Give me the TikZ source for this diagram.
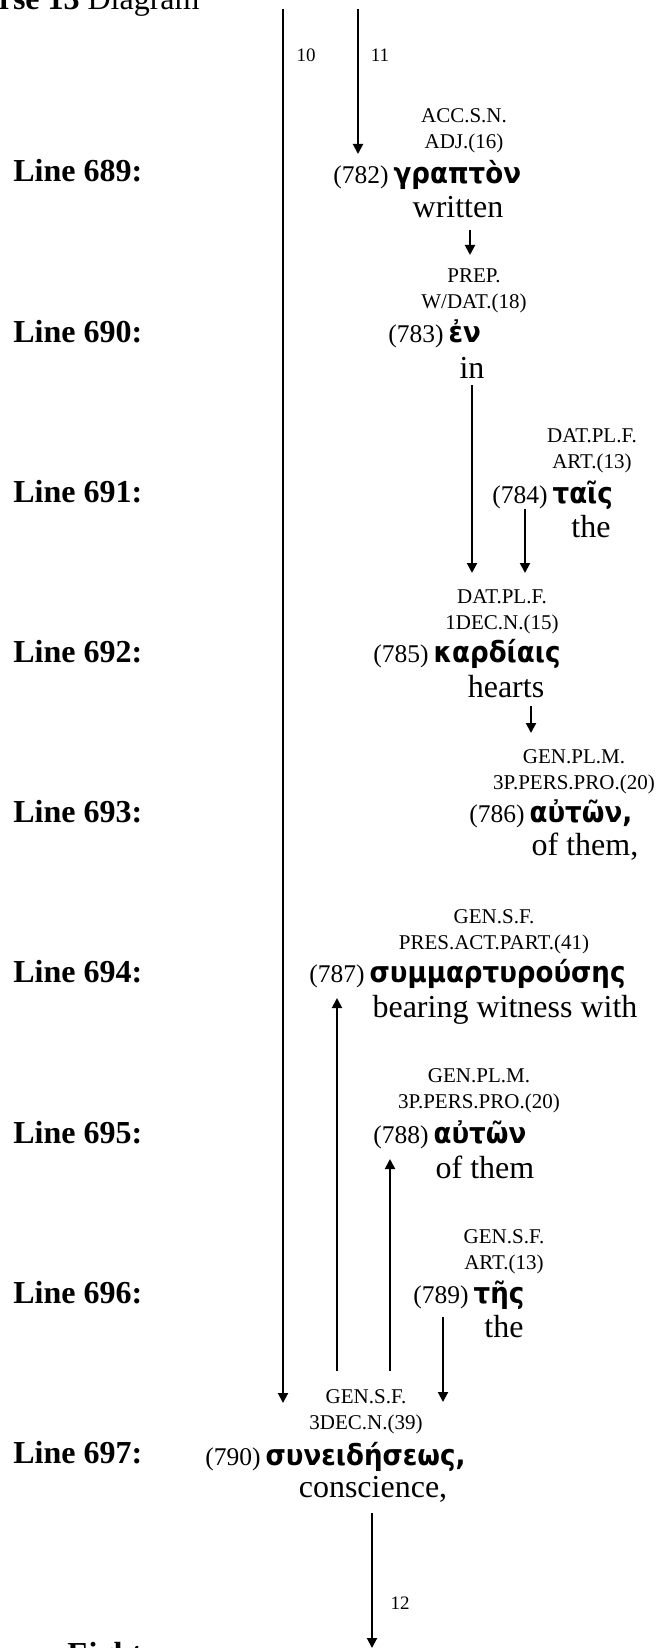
\documentclass[tikz,border=0pt]{standalone}
\usepackage{fontspec}
\setmainfont{Liberation Serif}
\newfontfamily\gkfont{DejaVu Sans}[FakeStretch=0.9]
\usetikzlibrary{arrows.meta}

\tikzset{
	linelbl/.style={anchor=base west, inner sep=0pt, font=\fontsize{16pt}{19pt}\selectfont\bfseries},
	word/.style={anchor=base west, inner sep=0pt},
	morph/.style={anchor=north, inner sep=0pt, align=center, font=\fontsize{10.5pt}{13pt}\selectfont},
	gloss/.style={anchor=base, inner sep=0pt, font=\fontsize{16pt}{19pt}\selectfont},
	lnum/.style={inner sep=0pt, font=\fontsize{9.5pt}{11pt}\selectfont},
	arr/.style={line width=1pt, -{Triangle[length=5pt,width=5pt]}},
	link/.style={line width=1pt}
}
\newcommand{\gword}[2]{{\fontsize{12.75pt}{15pt}\selectfont(#1)} {\gkfont\bfseries\fontsize{14.5pt}{17pt}\selectfont #2}}

\begin{document}
\begin{tikzpicture}[x=0.5pt,y=-0.5pt]
	\useasboundingbox (0,0) rectangle (659,1648);
	% title and line labels
	\node[linelbl] (title) at (-36,10) {Verse 13 \mdseries Diagram};
	\node[linelbl] (L689) at (13,182) {Line 689:};
	\node[linelbl] (L690) at (13,342) {Line 690:};
	\node[linelbl] (L691) at (13,502) {Line 691:};
	\node[linelbl] (L692) at (13,662) {Line 692:};
	\node[linelbl] (L693) at (13,822) {Line 693:};
	\node[linelbl] (L694) at (13,982) {Line 694:};
	\node[linelbl] (L695) at (13,1143) {Line 695:};
	\node[linelbl] (L696) at (13,1303) {Line 696:};
	\node[linelbl] (L697) at (13,1463) {Line 697:};
	\node[linelbl] (next) at (67,1664) {Eight};

	% words (morph nodes hang from the cap line of their first row)
	\node[morph] (m782) at (464,108) {ACC.S.N.\\ADJ.(16)};
	\node[word] (w782) at (333,184) {\gword{782}{γραπτὸν}};
	\node[gloss] (g782) at (458,218) {written};

	\node[morph] (m783) at (474,268) {PREP.\\W/DAT.(18)};
	\node[word] (w783) at (388,342) {\gword{783}{ἐν}};
	\node[gloss] (g783) at (472,378) {in};

	\node[morph] (m784) at (592,428) {DAT.PL.F.\\ART.(13)};
	\node[word] (w784) at (492,503) {\gword{784}{ταῖς}};
	\node[gloss] (g784) at (591,537) {the};

	\node[morph] (m785) at (502,589) {DAT.PL.F.\\1DEC.N.(15)};
	\node[word] (w785) at (373,662) {\gword{785}{καρδίαις}};
	\node[gloss] (g785) at (506,697) {hearts};

	\node[morph] (m786) at (574,749) {GEN.PL.M.\\3P.PERS.PRO.(20)};
	\node[word] (w786) at (469,822) {\gword{786}{αὐτῶν,}};
	\node[gloss] (g786) at (585,855) {of them,};

	\node[morph] (m787) at (494,909) {GEN.S.F.\\PRES.ACT.PART.(41)};
	\node[word] (w787) at (309,982) {\gword{787}{συμμαρτυρούσης}};
	\node[gloss] (g787) at (505,1017) {bearing witness with};

	\node[morph] (m788) at (479,1068) {GEN.PL.M.\\3P.PERS.PRO.(20)};
	\node[word] (w788) at (373,1143) {\gword{788}{αὐτῶν}};
	\node[gloss] (g788) at (485,1178) {of them};

	\node[morph] (m789) at (504,1229) {GEN.S.F.\\ART.(13)};
	\node[word] (w789) at (413,1303) {\gword{789}{τῆς}};
	\node[gloss] (g789) at (504,1337) {the};

	\node[morph] (m790) at (366,1389) {GEN.S.F.\\3DEC.N.(39)};
	\node[word] (w790) at (205,1465) {\gword{790}{συνειδήσεως,}};
	\node[gloss] (g790) at (373,1497) {conscience,};

	% connector ends
	\coordinate (A10) at (283,9);
	\coordinate (B10) at (283,1403);
	\coordinate (A11) at (358,9);
	\coordinate (B11) at (358,154);
	\coordinate (A782) at (470,230);
	\coordinate (B782) at (470,255);
	\coordinate (A783) at (472,385);
	\coordinate (B783) at (472,573);
	\coordinate (A784) at (525,509);
	\coordinate (B784) at (525,573);
	\coordinate (A785) at (531,706);
	\coordinate (B785) at (531,733);
	\coordinate (A787) at (337,1371);
	\coordinate (B787) at (337,998);
	\coordinate (A788) at (390,1371);
	\coordinate (B788) at (390,1159);
	\coordinate (A789) at (443,1317);
	\coordinate (B789) at (443,1402);
	\coordinate (A12) at (372,1513);
	\coordinate (B12) at (372,1648);

	\draw[arr] (A10) -- (B10);
	\draw[arr] (A11) -- (B11);
	\node[lnum] (n10) at (306,55) {10};
	\node[lnum] (n11) at (380,55) {11};
	\draw[arr] (A782) -- (B782);
	\draw[arr] (A783) -- (B783);
	\draw[arr] (A784) -- (B784);
	\draw[arr] (A785) -- (B785);
	\draw[arr] (A787) -- (B787);
	\draw[arr] (A788) -- (B788);
	\draw[arr] (A789) -- (B789);
	\draw[arr] (A12) -- (B12);
	\node[lnum] (n12) at (400,1603) {12};
\end{tikzpicture}
\end{document}
